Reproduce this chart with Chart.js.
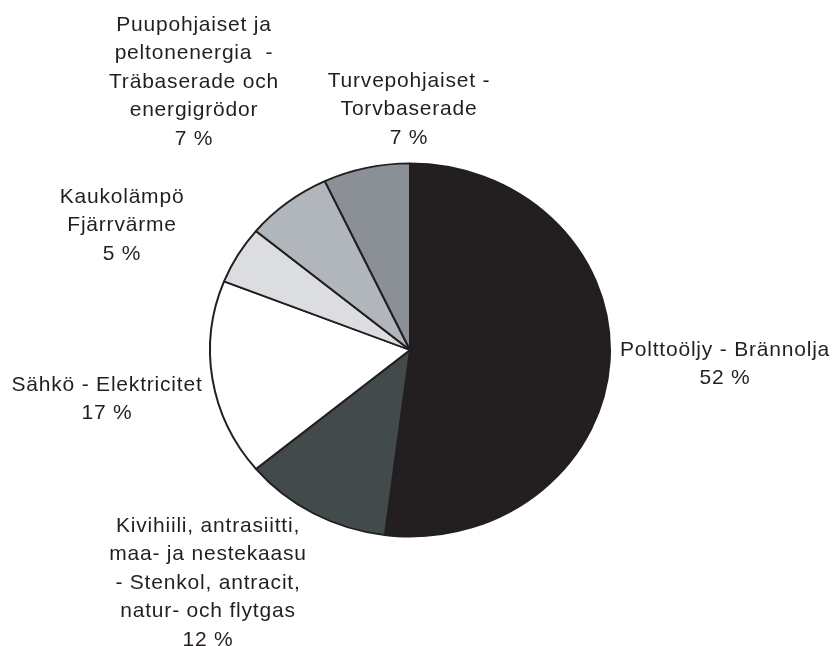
<!DOCTYPE html>
<html>
<head>
    <meta charset="UTF-8">
    <title>Energianlähteet</title>
    <script src="https://cdn.jsdelivr.net/npm/chart.js"></script>
    <style>
        html, body {
            margin: 0;
            padding: 0;
            background-color: #fff;
        }
        .chart-container {
            width: 832px;
            height: 646px;
        }
    </style>
</head>
<body>
    <div class="chart-container">
        <canvas id="chart"></canvas>
    </div>
    <script>
    // data
    const categories = [
        ['Polttoöljy - Brännolja'],
        ['Kivihiili, antrasiitti,', 'maa- ja nestekaasu', '- Stenkol, antracit,', 'natur- och flytgas'],
        ['Sähkö - Elektricitet'],
        ['Kaukolämpö', 'Fjärrvärme'],
        ['Puupohjaiset ja', 'peltonenergia  -', 'Träbaserade och', 'energigrödor'],
        ['Turvepohjaiset -', 'Torvbaserade']
    ];
    const shares = [52, 12, 17, 5, 7, 7];
    const sliceColors = ['#231f20', '#434a4c', '#ffffff', '#dbdde1', '#b1b6bc', '#8b9096'];

    // where each label block sits (centre x, middle of first line)
    const labelAnchors = [[725, 350], [208, 526], [107, 385], [122, 197], [194, 25], [409, 81]];
    const lineHeight = 28.5;
    const squash = 0.933; // the pie is a bit flatter than it is wide

    const flattenPie = {
        id: 'flattenPie',
        beforeDatasetsDraw(chart) {
            const arc = chart.getDatasetMeta(0).data[0];
            const ctx = chart.ctx;
            ctx.save();
            ctx.translate(arc.x, arc.y);
            ctx.scale(1, squash);
            ctx.translate(-arc.x, -arc.y);
        },
        afterDatasetsDraw(chart) {
            chart.ctx.restore();
        }
    };

    const sliceLabels = {
        id: 'sliceLabels',
        afterDraw(chart) {
            const ctx = chart.ctx;
            ctx.save();
            ctx.font = '21px "Liberation Sans", Arial, sans-serif';
            ctx.letterSpacing = '0.8px';
            ctx.fillStyle = '#231f20';
            ctx.textAlign = 'center';
            ctx.textBaseline = 'middle';
            categories.forEach((lines, i) => {
                const all = lines.concat([shares[i] + ' %']);
                const [x, y] = labelAnchors[i];
                all.forEach((t, j) => ctx.fillText(t, x, y + j * lineHeight));
            });
            ctx.restore();
        }
    };

    new Chart(document.getElementById('chart'), {
        type: 'pie',
        data: {
            labels: categories,
            datasets: [{
                data: shares,
                backgroundColor: sliceColors,
                borderColor: '#231f20',
                borderWidth: 2
            }]
        },
        options: {
            responsive: true,
            maintainAspectRatio: false,
            animation: false,
            events: [],
            layout: {
                padding: { left: 209, right: 221, top: 149, bottom: 95 }
            },
            plugins: {
                legend: { display: false },
                tooltip: { enabled: false }
            }
        },
        plugins: [flattenPie, sliceLabels]
    });
    </script>
</body>
</html>
